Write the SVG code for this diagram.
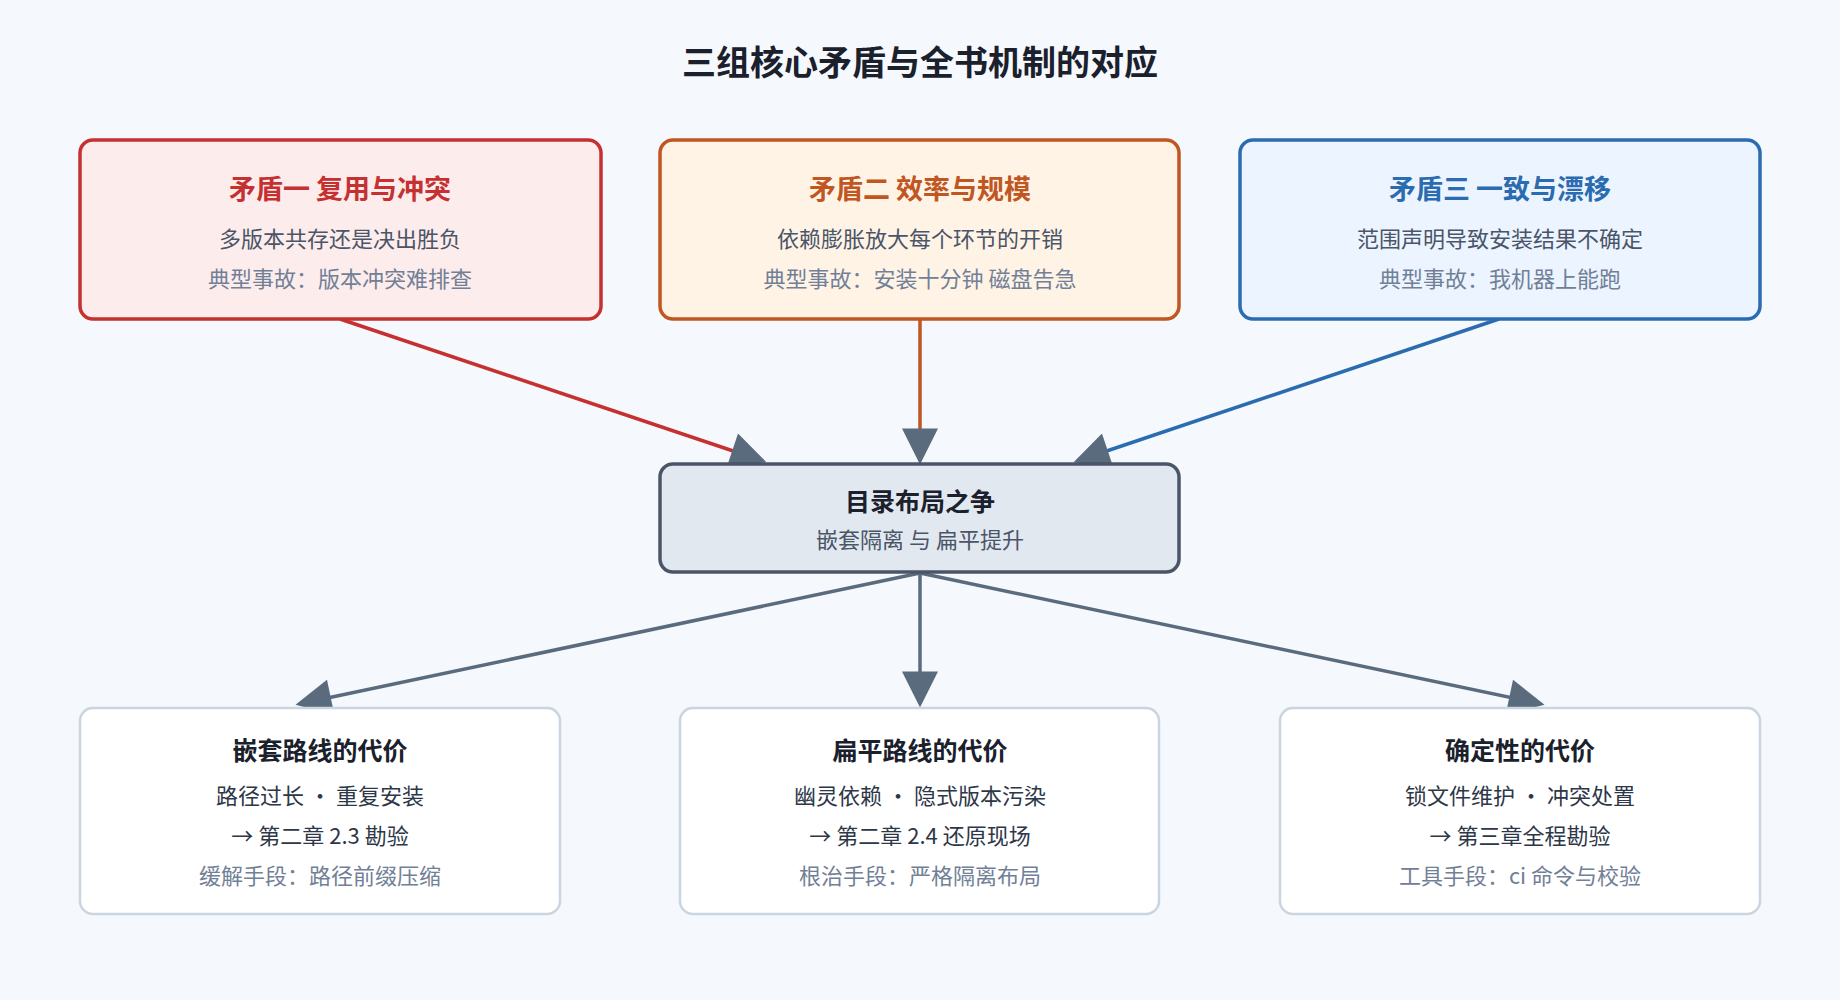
<svg xmlns="http://www.w3.org/2000/svg" width="1840" height="1000" viewBox="0 0 1840 1000">
<style>
text{font-family:"Noto Sans CJK SC","Liberation Sans",sans-serif;text-anchor:middle}
.t{font-size:27px;font-weight:bold}
.s{font-size:22px;fill:#4a5568}
.m{font-size:22px;fill:#718096}
.bt{font-size:25px;font-weight:bold;fill:#1a202c}
.bs{font-size:22px;fill:#2d3748}
.c{stroke-width:3.5;fill:none}
</style>
<defs>
<marker id="ar" viewBox="0 0 10 10" refX="9" refY="5" markerWidth="40" markerHeight="36" markerUnits="userSpaceOnUse" orient="auto"><path d="M0,0L10,5L0,10z" fill="#c53030"/></marker>
<marker id="ao" viewBox="0 0 10 10" refX="9" refY="5" markerWidth="40" markerHeight="36" markerUnits="userSpaceOnUse" orient="auto"><path d="M0,0L10,5L0,10z" fill="#5a6b7d"/></marker>
<marker id="ab" viewBox="0 0 10 10" refX="9" refY="5" markerWidth="40" markerHeight="36" markerUnits="userSpaceOnUse" orient="auto"><path d="M0,0L10,5L0,10z" fill="#5a6b7d"/></marker>
<marker id="ag" viewBox="0 0 10 10" refX="9" refY="5" markerWidth="40" markerHeight="36" markerUnits="userSpaceOnUse" orient="auto"><path d="M0,0L10,5L0,10z" fill="#5a6b7d"/></marker>
</defs>
<rect width="1840" height="1000" fill="#f5f8fc"/>
<text x="920" y="75" style="font-size:34px;font-weight:bold;fill:#1a202c">三组核心矛盾与全书机制的对应</text>
<g id="connectors">
<line x1="340" y1="319" x2="763" y2="461" stroke="#c53030" class="c" marker-end="url(#ag)"/>
<line x1="920" y1="319" x2="920" y2="461" stroke="#c05621" class="c" marker-end="url(#ao)"/>
<line x1="1499" y1="319" x2="1077" y2="461" stroke="#2b6cb0" class="c" marker-end="url(#ab)"/>
<line x1="920" y1="573" x2="299" y2="704" stroke="#5a6b7d" class="c" marker-end="url(#ag)"/>
<line x1="920" y1="573" x2="920" y2="704" stroke="#5a6b7d" class="c" marker-end="url(#ag)"/>
<line x1="920" y1="573" x2="1541" y2="704" stroke="#5a6b7d" class="c" marker-end="url(#ag)"/>
</g>
<g id="n1"><rect x="80" y="140" width="521" height="179" rx="13" fill="#fdecec" stroke="#c53030" stroke-width="3.5"/>
<text x="340" y="199" class="t" fill="#c53030">矛盾一 复用与冲突</text>
<text x="340" y="247" class="s">多版本共存还是决出胜负</text>
<text x="340" y="287" class="m">典型事故：版本冲突难排查</text></g>
<g id="n2"><rect x="660" y="140" width="519" height="179" rx="13" fill="#fff3e6" stroke="#c05621" stroke-width="3.5"/>
<text x="920" y="199" class="t" fill="#c05621">矛盾二 效率与规模</text>
<text x="920" y="247" class="s">依赖膨胀放大每个环节的开销</text>
<text x="920" y="287" class="m">典型事故：安装十分钟 磁盘告急</text></g>
<g id="n3"><rect x="1240" y="140" width="520" height="179" rx="13" fill="#ebf4ff" stroke="#2b6cb0" stroke-width="3.5"/>
<text x="1500" y="199" class="t" fill="#2b6cb0">矛盾三 一致与漂移</text>
<text x="1500" y="247" class="s">范围声明导致安装结果不确定</text>
<text x="1500" y="287" class="m">典型事故：我机器上能跑</text></g>
<g id="center"><rect x="660" y="464" width="519" height="108" rx="13" fill="#e2e8f0" stroke="#4a5568" stroke-width="3.5"/>
<text x="920" y="511" class="bt">目录布局之争</text>
<text x="920" y="548" class="s">嵌套隔离 与 扁平提升</text></g>
<g id="b1"><rect x="80" y="708" width="480" height="206" rx="13" fill="#fff" stroke="#cbd5e0" stroke-width="2.5"/>
<text x="320" y="760" class="bt">嵌套路线的代价</text>
<text x="320" y="804" class="bs">路径过长 · 重复安装</text>
<text x="320" y="844" class="bs">→ 第二章 2.3 勘验</text>
<text x="320" y="884" class="m">缓解手段：路径前缀压缩</text></g>
<g id="b2"><rect x="680" y="708" width="479" height="206" rx="13" fill="#fff" stroke="#cbd5e0" stroke-width="2.5"/>
<text x="920" y="760" class="bt">扁平路线的代价</text>
<text x="920" y="804" class="bs">幽灵依赖 · 隐式版本污染</text>
<text x="920" y="844" class="bs">→ 第二章 2.4 还原现场</text>
<text x="920" y="884" class="m">根治手段：严格隔离布局</text></g>
<g id="b3"><rect x="1280" y="708" width="480" height="206" rx="13" fill="#fff" stroke="#cbd5e0" stroke-width="2.5"/>
<text x="1520" y="760" class="bt">确定性的代价</text>
<text x="1520" y="804" class="bs">锁文件维护 · 冲突处置</text>
<text x="1520" y="844" class="bs">→ 第三章全程勘验</text>
<text x="1520" y="884" class="m">工具手段：ci 命令与校验</text></g>
</svg>
